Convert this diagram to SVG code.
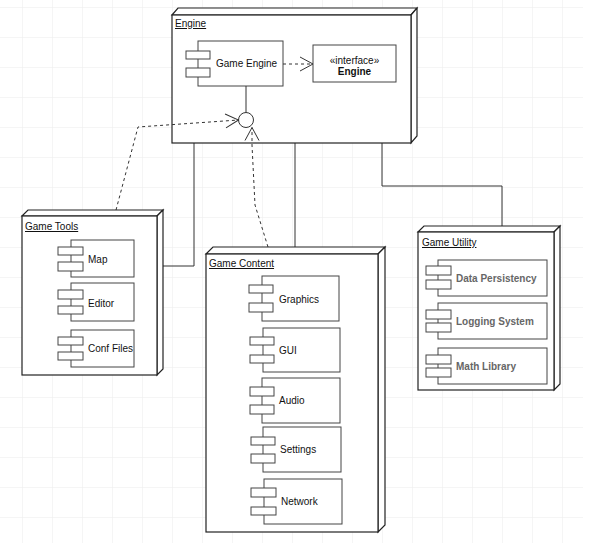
<svg xmlns="http://www.w3.org/2000/svg" width="592" height="544" viewBox="0 0 592 544">
<defs>
<pattern id="grid" x="22" y="7" width="30" height="30" patternUnits="userSpaceOnUse">
<path d="M0,0 H30 M0,0 V30" fill="none" stroke="#ececec" stroke-width="1"/>
</pattern>
<marker id="open" markerUnits="userSpaceOnUse" markerWidth="16" markerHeight="16" viewBox="-14 -8 16 16" refX="0" refY="0" orient="auto">
<path d="M-13,-7 L0,0 L-13,7" fill="none" stroke="#333" stroke-width="1"/>
</marker>
</defs>
<style>
.face{fill:#fff;stroke:#222;stroke-width:1.2}
.comp{fill:#fff;stroke:#444;stroke-width:1}
.t{font-family:"Liberation Sans",Arial,sans-serif;font-size:10px;fill:#111}
.lbl{font-family:"Liberation Sans",Arial,sans-serif;font-size:10px;fill:#111;text-decoration:underline}
.u{font-family:"Liberation Sans",Arial,sans-serif;font-size:10px;font-weight:bold;fill:#666}
.conn{fill:none;stroke:#333;stroke-width:1}
.dash{fill:none;stroke:#333;stroke-width:1;stroke-dasharray:3,3}
</style>
<rect x="0" y="0" width="583" height="543" fill="#fff"/>
<rect x="0" y="0" width="583" height="543" fill="url(#grid)"/>

<g id="connectors">
<polyline class="conn" points="194,143 194,266 163,266"/>
<line class="conn" x1="295" y1="143" x2="295" y2="247"/>
<polyline class="conn" points="382,143 382,186 502,186 502,226"/>
</g>

<g id="engine">
<polygon class="face" points="172,15 178,8 417,8 411,15"/>
<polygon class="face" points="411,15 417,8 417,136 411,143"/>
<rect class="face" x="172" y="15" width="239" height="128"/>
<text class="lbl" x="175" y="27">Engine</text>
</g>

<g id="game-engine">
<rect class="comp" x="198" y="41" width="85" height="45"/>
<rect class="comp" x="186" y="51" width="24" height="8"/>
<rect class="comp" x="186" y="68" width="24" height="9"/>
<text class="t" x="216" y="67">Game Engine</text>
</g>

<g id="engine-interface">
<rect class="comp" x="313" y="45" width="83" height="37"/>
<text class="t" x="354.5" y="64" text-anchor="middle" font-size="9.5">«interface»</text>
<text class="t" x="354.5" y="75" text-anchor="middle" font-weight="bold">Engine</text>
</g>

<g id="lollipop">
<line class="conn" x1="246" y1="86" x2="246" y2="112.5"/>
<circle cx="246" cy="120" r="7.5" fill="#fff" stroke="#333" stroke-width="1"/>
</g>

<g id="dependencies">
<line class="dash" x1="283" y1="64" x2="313" y2="64" marker-end="url(#open)"/>
<polyline class="dash" points="116,210 138,127 238.5,120" marker-end="url(#open)"/>
<polyline class="dash" points="268,247 255,205 252,145 252,127.5" marker-end="url(#open)"/>
</g>

<g id="game-tools">
<polygon class="face" points="22,216 28,210 163,210 157,216"/>
<polygon class="face" points="157,216 163,210 163,369 157,375"/>
<rect class="face" x="22" y="216" width="135" height="159"/>
<text class="lbl" x="25" y="230">Game Tools</text>
</g>
<g id="map">
<rect class="comp" x="71" y="240" width="63" height="37"/>
<rect class="comp" x="58" y="247" width="25" height="8"/>
<rect class="comp" x="58" y="262" width="25" height="9"/>
<text class="t" x="88" y="263">Map</text>
</g>
<g id="editor">
<rect class="comp" x="71" y="283" width="63" height="38"/>
<rect class="comp" x="58" y="290" width="25" height="9"/>
<rect class="comp" x="58" y="306" width="25" height="8"/>
<text class="t" x="88" y="307">Editor</text>
</g>
<g id="conf-files">
<rect class="comp" x="71" y="330" width="63" height="37"/>
<rect class="comp" x="58" y="337" width="25" height="8"/>
<rect class="comp" x="58" y="352" width="25" height="8"/>
<text class="t" x="88" y="352">Conf Files</text>
</g>

<g id="game-content">
<polygon class="face" points="206,254 213,247 385,247 378,254"/>
<polygon class="face" points="378,254 385,247 385,525 378,532"/>
<rect class="face" x="206" y="254" width="172" height="278"/>
<text class="lbl" x="209" y="267">Game Content</text>
</g>
<g id="graphics">
<rect class="comp" x="262" y="276" width="77" height="45"/>
<rect class="comp" x="249" y="285" width="24" height="8"/>
<rect class="comp" x="249" y="303" width="24" height="9"/>
<text class="t" x="279" y="303">Graphics</text>
</g>
<g id="gui">
<rect class="comp" x="263" y="328" width="77" height="44"/>
<rect class="comp" x="250" y="337" width="24" height="8"/>
<rect class="comp" x="250" y="355" width="24" height="8"/>
<text class="t" x="279" y="354">GUI</text>
</g>
<g id="audio">
<rect class="comp" x="262" y="378" width="78" height="45"/>
<rect class="comp" x="250" y="387" width="24" height="9"/>
<rect class="comp" x="250" y="405" width="24" height="9"/>
<text class="t" x="279" y="404">Audio</text>
</g>
<g id="settings">
<rect class="comp" x="263" y="427" width="78" height="45"/>
<rect class="comp" x="251" y="437" width="24" height="8"/>
<rect class="comp" x="251" y="454" width="24" height="9"/>
<text class="t" x="280" y="453">Settings</text>
</g>
<g id="network">
<rect class="comp" x="264" y="479" width="78" height="45"/>
<rect class="comp" x="251" y="488" width="25" height="9"/>
<rect class="comp" x="251" y="507" width="25" height="8"/>
<text class="t" x="281" y="505">Network</text>
</g>

<g id="game-utility">
<polygon class="face" points="418,232 424,226 560,226 554,232"/>
<polygon class="face" points="554,232 560,226 560,384 554,390"/>
<rect class="face" x="418" y="232" width="136" height="158"/>
<text class="lbl" x="422" y="246">Game Utility</text>
</g>
<g id="data-persistency">
<rect class="comp" x="438" y="260" width="109" height="36"/>
<rect class="comp" x="426" y="266" width="25" height="9"/>
<rect class="comp" x="426" y="280" width="25" height="9"/>
<text class="u" x="456" y="282">Data Persistency</text>
</g>
<g id="logging-system">
<rect class="comp" x="438" y="303" width="109" height="36"/>
<rect class="comp" x="426" y="310" width="25" height="9"/>
<rect class="comp" x="426" y="323" width="25" height="9"/>
<text class="u" x="456" y="325">Logging System</text>
</g>
<g id="math-library">
<rect class="comp" x="438" y="348" width="109" height="36"/>
<rect class="comp" x="426" y="355" width="25" height="9"/>
<rect class="comp" x="426" y="368" width="25" height="9"/>
<text class="u" x="456" y="370">Math Library</text>
</g>
</svg>
